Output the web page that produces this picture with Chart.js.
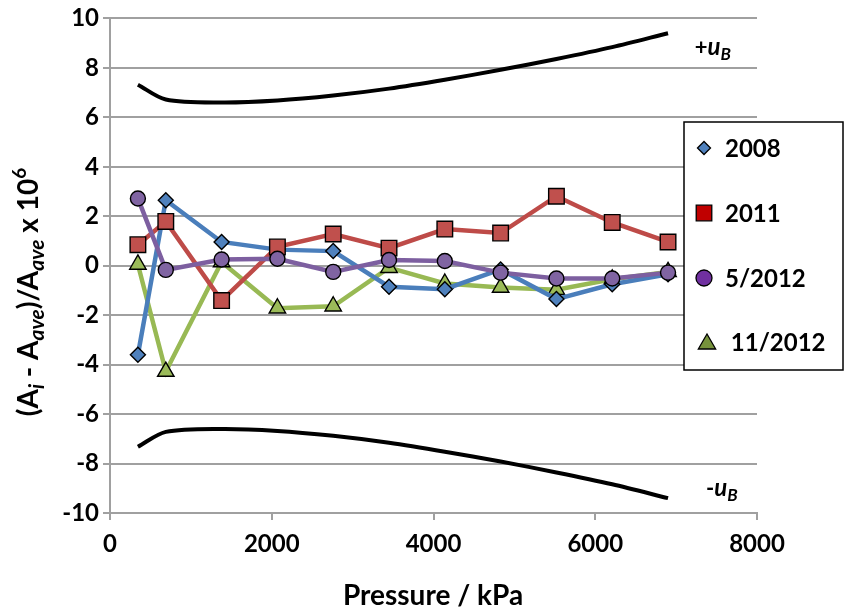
<!DOCTYPE html>
<html><head><meta charset="utf-8">
<script src="https://cdn.jsdelivr.net/npm/chart.js@4.4.1/dist/chart.umd.min.js"></script>
<style>html,body{margin:0;padding:0;background:#fff}#wrap{width:846px;height:615px;position:relative}</style>
</head><body><div id="wrap"><canvas id="c" width="846" height="615"></canvas></div>
<script>
// ---- data ----
const pressures = [345, 690, 1380, 2070, 2760, 3450, 4140, 4830, 5520, 6210, 6900];
const s2008   = [-3.60, 2.65, 0.96, 0.65, 0.59, -0.85, -0.95, -0.15, -1.35, -0.75, -0.35];
const s2011   = [0.85, 1.79, -1.41, 0.76, 1.28, 0.71, 1.48, 1.32, 2.81, 1.75, 0.96];
const s5_2012 = [2.72, -0.17, 0.25, 0.28, -0.25, 0.23, 0.19, -0.28, -0.52, -0.52, -0.28];
const s11_2012= [0.05, -4.28, 0.15, -1.72, -1.64, -0.08, -0.72, -0.88, -0.97, -0.55, -0.25];
const upperB  = [7.32, 6.72, 6.60, 6.68, 6.88, 7.16, 7.52, 7.92, 8.36, 8.84, 9.40];
const lowerB  = [-7.32, -6.72, -6.60, -6.68, -6.88, -7.16, -7.52, -7.92, -8.36, -8.84, -9.40];
const seriesNames = ['2008', '2011', '5/2012', '11/2012'];
const yTicks = [-10, -8, -6, -4, -2, 0, 2, 4, 6, 8, 10];
const xTicks = [0, 2000, 4000, 6000, 8000];

const FONT = 'Lato';
const pts = arr => pressures.map((p, i) => ({x: p, y: arr[i]}));

const styles = [
  {line:'#4a7ebb', fill:'#4f81bd', shape:'rectRot', r:7.5},
  {line:'#be4b48', fill:'#c0504d', shape:'rect', r:11},
  {line:'#7d5fa0', fill:'#8064a2', shape:'circle', r:7.5},
  {line:'#98b954', fill:'#9bbb59', shape:'triangle', r:9.5}
];
const seriesData = [s2008, s2011, s5_2012, s11_2012];
const orders = [3, 2, 1, 4];

const datasets = seriesData.map((arr, i) => ({
  label: seriesNames[i], data: pts(arr), borderColor: styles[i].line, borderWidth: 4.5,
  backgroundColor: styles[i].fill, pointStyle: styles[i].shape, pointRadius: styles[i].r,
  pointBackgroundColor: styles[i].fill, pointBorderColor: '#000', pointBorderWidth: 1.4,
  tension: 0, order: orders[i]
}));
datasets.push({label:'+uB', data: pts(upperB), borderColor:'#000', borderWidth:4, pointRadius:0, tension:0.3, order:5});
datasets.push({label:'-uB', data: pts(lowerB), borderColor:'#000', borderWidth:4, pointRadius:0, tension:0.3, order:5});

function drawRich(ctx, segs, x, y, align) {
  let total = 0;
  segs.forEach(s => { ctx.font = s.font; s.w = ctx.measureText(s.t).width; total += s.w; });
  let cx = align === 'center' ? x - total / 2 : x;
  segs.forEach(s => { ctx.font = s.font; ctx.fillText(s.t, cx, y + (s.dy || 0)); cx += s.w; });
}

const decor = {
  id: 'decor',
  afterDraw(chart) {
    const ctx = chart.ctx;
    const xs = chart.scales.x, ys = chart.scales.y;
    ctx.save();
    ctx.fillStyle = '#000';
    ctx.textBaseline = 'alphabetic';
    // y title
    ctx.save();
    ctx.translate(38, 292);
    ctx.rotate(-Math.PI / 2);
    const B = 'bold 28px ' + FONT, BI = 'italic bold 21px ' + FONT;
    drawRich(ctx, [
      {t:'(A', font:B}, {t:'i', font:BI, dy:6}, {t:' - A', font:B}, {t:'ave', font:BI, dy:6},
      {t:')/A', font:B}, {t:'ave', font:BI, dy:6}, {t:' x 10', font:B}, {t:'6', font:'bold 19px ' + FONT, dy:-12}
    ], 0, 0, 'center');
    ctx.restore();
    // x title
    ctx.font = 'bold 28px ' + FONT;
    ctx.textAlign = 'center';
    ctx.fillText('Pressure / kPa', 433, 605);
    ctx.textAlign = 'left';
    // bound labels
    const sign = [{t:'+', font:'bold 22px ' + FONT}, {t:'u', font:'italic bold 24px ' + FONT}, {t:'B', font:'italic bold 17px ' + FONT, dy:5}];
    drawRich(ctx, sign, xs.getPixelForValue(7230), ys.getPixelForValue(8.5), 'left');
    drawRich(ctx, [{t:'-', font:'bold 22px ' + FONT}, sign[1], sign[2]], xs.getPixelForValue(7370), ys.getPixelForValue(-9.3), 'left');
    // legend
    const L = 684, T = 122, R = 843, Bt = 370;
    ctx.fillStyle = '#fff';
    ctx.fillRect(L, T, R - L, Bt - T);
    ctx.strokeStyle = '#000';
    ctx.lineWidth = 1.5;
    ctx.strokeRect(L, T, R - L, Bt - T);
    const rows = [148, 213, 278, 342];
    const legFill = ['#4f81bd', '#c00000', '#7030a0', '#77933c'];
    const legShape = ['rectRot', 'rect', 'circle', 'triangle'];
    const legR = [6.5, 11, 8, 10];
    const legText = ['2008', '2011', '5/2012', ' 11/2012'];
    for (let i = 0; i < 4; i++) {
      ctx.fillStyle = legFill[i];
      ctx.strokeStyle = '#000';
      ctx.lineWidth = 1.3;
      Chart.helpers.drawPoint(ctx, {pointStyle: legShape[i], radius: legR[i], borderWidth: 1.3}, i === 3 ? 707 : 704, rows[i] + (i === 3 ? 2 : 0));
      ctx.fillStyle = '#000';
      ctx.font = 'bold 24px ' + FONT;
      ctx.textBaseline = 'middle';
      ctx.fillText(legText[i], 725, rows[i] + 1);
    }
    ctx.restore();
  }
};

new Chart(document.getElementById('c'), {
  type: 'line',
  data: { datasets },
  options: {
    responsive: false, animation: false, devicePixelRatio: 1,
    layout: { padding: { left: 0, top: 13, right: 89, bottom: 0 } },
    plugins: { legend: { display: false }, tooltip: { enabled: false } },
    scales: {
      x: {
        type: 'linear', min: 0, max: 8000,
        afterBuildTicks: s => { s.ticks = xTicks.map(v => ({value: v})); },
        afterFit: s => { s.height = 102; },
        grid: { drawOnChartArea: false, drawTicks: true, tickLength: 7, color: '#a0a0a0', lineWidth: 2 },
        border: { display: true, color: '#a0a0a0', width: 2 },
        ticks: { color: '#000', font: { family: FONT, size: 24, weight: 'bold' }, padding: 10, maxRotation: 0, callback: v => String(v) }
      },
      y: {
        type: 'linear', min: -10, max: 10,
        afterBuildTicks: s => { s.ticks = yTicks.map(v => ({value: v})); },
        afterFit: s => { s.width = 110; },
        grid: { drawTicks: true, tickLength: 7, color: '#a0a0a0', lineWidth: 2 },
        border: { display: true, color: '#a0a0a0', width: 2 },
        ticks: { color: '#000', font: { family: FONT, size: 24, weight: 'bold' }, padding: 4, callback: v => String(v) }
      }
    }
  },
  plugins: [decor]
});
</script>
</body></html>
